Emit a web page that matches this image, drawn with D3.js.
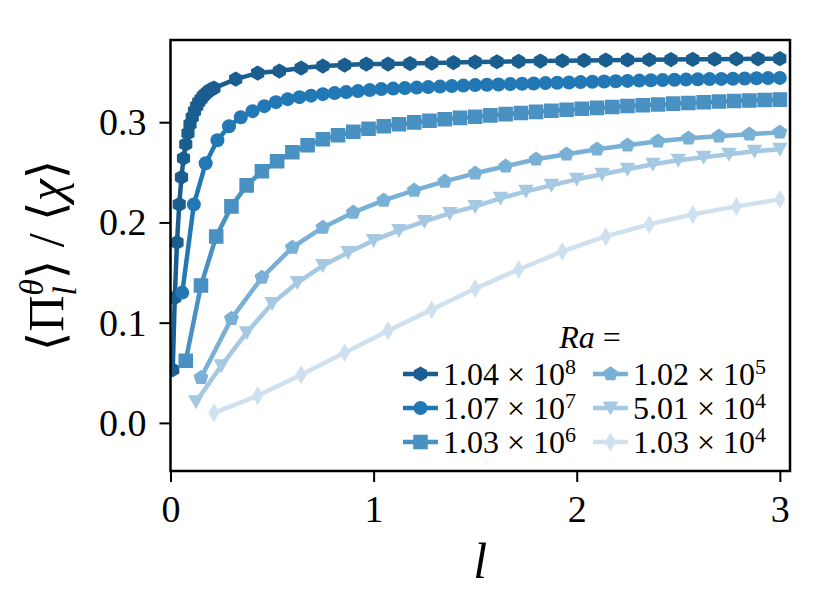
<!DOCTYPE html>
<html lang="en">
<head>
    <meta charset="UTF-8">
    <title>Pi / chi</title>
    <style>
        body { margin: 0; background: #fff; }
        text { font-family: "Liberation Serif", "DejaVu Serif", serif; fill: #000; }
    </style>
</head>
<body>
    <svg width="830" height="615"></svg>

    <script src="https://d3js.org/d3.v7.min.js"></script>
    <script>
        // ---- data ----
        var hexX = [0.011, 0.021, 0.032, 0.043, 0.054, 0.064, 0.075, 0.086, 0.096, 0.107,
                    0.118, 0.129, 0.139, 0.150, 0.161, 0.171, 0.182, 0.193, 0.204, 0.214,
                    0.321, 0.429, 0.536, 0.643, 0.750, 0.857, 0.964, 1.071, 1.179, 1.286,
                    1.393, 1.500, 1.607, 1.714, 1.821, 1.929, 2.036, 2.143, 2.250, 2.357,
                    2.464, 2.571, 2.679, 2.786, 2.893, 3.000];
        var hexY = [0.053, 0.125, 0.180, 0.218, 0.245, 0.264, 0.278, 0.289, 0.298, 0.305,
                    0.311, 0.316, 0.320, 0.323, 0.326, 0.328, 0.330, 0.332, 0.333, 0.334,
                    0.343, 0.349, 0.351, 0.354, 0.356, 0.357, 0.358, 0.358, 0.3585, 0.359,
                    0.3595, 0.360, 0.3603, 0.3607, 0.361, 0.3613, 0.3616, 0.3619, 0.3621, 0.3623,
                    0.3625, 0.3627, 0.3629, 0.3631, 0.3632, 0.3634];

        var circX = [0.058, 0.115, 0.173, 0.231, 0.288, 0.346, 0.404, 0.462, 0.519, 0.577,
                     0.635, 0.692, 0.750, 0.808, 0.865, 0.923, 0.981, 1.038, 1.096, 1.154,
                     1.212, 1.269, 1.327, 1.385, 1.442, 1.500, 1.558, 1.615, 1.673, 1.731,
                     1.788, 1.846, 1.904, 1.962, 2.019, 2.077, 2.135, 2.192, 2.250, 2.308,
                     2.365, 2.423, 2.481, 2.538, 2.596, 2.654, 2.712, 2.769, 2.827, 2.885,
                     2.942, 3.000];
        var circY = [0.130, 0.218, 0.259, 0.282, 0.296, 0.305, 0.311, 0.316, 0.320, 0.323,
                     0.325, 0.3265, 0.328, 0.329, 0.330, 0.331, 0.332, 0.333, 0.3335, 0.334,
                     0.3345, 0.335, 0.3355, 0.336, 0.3365, 0.337, 0.3373, 0.3376, 0.338, 0.3383,
                     0.3386, 0.339, 0.3393, 0.3396, 0.340, 0.3403, 0.3406, 0.3409, 0.3412, 0.3415,
                     0.3418, 0.342, 0.3423, 0.3425, 0.3428, 0.343, 0.3432, 0.3434, 0.3436, 0.3438,
                     0.344, 0.3442];

        var sqX = [0.075, 0.150, 0.225, 0.300, 0.375, 0.450, 0.525, 0.600, 0.675, 0.750,
                   0.825, 0.900, 0.975, 1.050, 1.125, 1.200, 1.275, 1.350, 1.425, 1.500,
                   1.575, 1.650, 1.725, 1.800, 1.875, 1.950, 2.025, 2.100, 2.175, 2.250,
                   2.325, 2.400, 2.475, 2.550, 2.625, 2.700, 2.775, 2.850, 2.925, 3.000];
        var sqY = [0.062, 0.137, 0.186, 0.216, 0.237, 0.251, 0.261, 0.270, 0.277, 0.283,
                   0.287, 0.2905, 0.2935, 0.296, 0.298, 0.2998, 0.3015, 0.303, 0.3043, 0.3055,
                   0.3068, 0.308, 0.3092, 0.3103, 0.3114, 0.3124, 0.3134, 0.3143, 0.3152, 0.3161,
                   0.3169, 0.3177, 0.3185, 0.3192, 0.3199, 0.3206, 0.3212, 0.3217, 0.3221, 0.3225];

        var pentX = [0.15, 0.30, 0.45, 0.60, 0.75, 0.90, 1.05, 1.20, 1.35, 1.50,
                     1.65, 1.80, 1.95, 2.10, 2.25, 2.40, 2.55, 2.70, 2.85, 3.00];
        var pentY = [0.045, 0.104, 0.145, 0.175, 0.195, 0.210, 0.222, 0.232, 0.241, 0.249,
                     0.256, 0.263, 0.268, 0.273, 0.277, 0.281, 0.284, 0.286, 0.288, 0.290];

        var triX = [0.125, 0.250, 0.375, 0.500, 0.625, 0.750, 0.875, 1.000, 1.125, 1.250,
                    1.375, 1.500, 1.625, 1.750, 1.875, 2.000, 2.125, 2.250, 2.375, 2.500,
                    2.625, 2.750, 2.875, 3.000];
        var triY = [0.021, 0.057, 0.090, 0.119, 0.140, 0.157, 0.170, 0.182, 0.192, 0.201,
                    0.209, 0.216, 0.224, 0.231, 0.237, 0.243, 0.248, 0.253, 0.258, 0.262,
                    0.265, 0.268, 0.271, 0.273];

        var diaX = [0.214, 0.429, 0.643, 0.857, 1.071, 1.286, 1.500, 1.714, 1.929, 2.143,
                    2.357, 2.571, 2.786, 3.000];
        var diaY = [0.010, 0.027, 0.048, 0.070, 0.092, 0.113, 0.134, 0.153, 0.171, 0.186,
                    0.198, 0.208, 0.216, 0.223];

        var labelBase = ['1.04', '1.07', '1.03', '1.02', '5.01', '1.03'];
        var labelExp  = ['8', '7', '6', '5', '4', '4'];
        var xTicks = [0, 1, 2, 3];
        var yTicks = [0.0, 0.1, 0.2, 0.3];

        var colors  = ['#1a5d8f', '#2178b4', '#4a91c3', '#79b0d6', '#a5c9e2', '#cfe1ef'];
        var markers = ['hex', 'circle', 'square', 'pent', 'tridown', 'thindia'];

        var series = [[hexX, hexY], [circX, circY], [sqX, sqY],
                      [pentX, pentY], [triX, triY], [diaX, diaY]];

        // ---- layout ----
        var svg = d3.select('svg');
        var mLeft = 170.5, mRight = 790, mTop = 40, mBottom = 471;

        var x = d3.scaleLinear().domain([0, 3.05]).range([mLeft, mRight]);
        var y = d3.scaleLinear().domain([-0.048, 0.382]).range([mBottom, mTop]);

        function polygon(n, r, rot) {
            var pts = [];
            for (var i = 0; i < n; i++) {
                var a = rot + i * 2 * Math.PI / n;
                pts.push([r * Math.sin(a), -r * Math.cos(a)]);
            }
            return 'M' + pts.map(function(p) { return p[0].toFixed(2) + ',' + p[1].toFixed(2); }).join('L') + 'Z';
        }

        function markerPath(kind) {
            if (kind == 'hex') return polygon(6, 7.6, 0);
            if (kind == 'circle') return d3.symbol(d3.symbolCircle, Math.PI * 7 * 7)();
            if (kind == 'square') return 'M-7.3,-7.3L7.3,-7.3L7.3,7.3L-7.3,7.3Z';
            if (kind == 'pent') return polygon(5, 7.8, 0);
            if (kind == 'tridown') return 'M0,7.5L-7.8,-6.5L7.8,-6.5Z';
            if (kind == 'thindia') return 'M0,-9.5L5.6,0L0,9.5L-5.6,0Z';
        }

        svg.append('clipPath').attr('id', 'plotclip')
            .append('rect')
            .attr('x', mLeft).attr('y', mTop)
            .attr('width', mRight - mLeft).attr('height', mBottom - mTop);

        var plot = svg.append('g').attr('clip-path', 'url(#plotclip)');

        var line = d3.line()
            .x(function(d) { return x(d[0]); })
            .y(function(d) { return y(d[1]); });

        series.forEach(function(s, i) {
            var pts = s[0].map(function(v, j) { return [v, s[1][j]]; });
            var g = plot.append('g');
            g.append('path')
                .datum(pts)
                .attr('d', line)
                .attr('fill', 'none')
                .attr('stroke', colors[i])
                .attr('stroke-width', 4.5)
                .attr('stroke-linejoin', 'round');
            g.selectAll('path.mk')
                .data(pts)
                .enter().append('path')
                .attr('class', 'mk')
                .attr('d', markerPath(markers[i]))
                .attr('transform', function(d) { return 'translate(' + x(d[0]) + ',' + y(d[1]) + ')'; })
                .attr('fill', colors[i]);
        });

        // ---- axes ----
        var xAxis = svg.append('g')
            .attr('transform', 'translate(0,' + mBottom + ')')
            .call(d3.axisBottom(x).tickValues(xTicks).tickFormat(d3.format('d')).tickSize(11).tickPadding(13));
        var yAxis = svg.append('g')
            .attr('transform', 'translate(' + mLeft + ',0)')
            .call(d3.axisLeft(y).tickValues(yTicks).tickFormat(d3.format('.1f')).tickSize(11).tickPadding(13));

        [xAxis, yAxis].forEach(function(a) {
            a.select('.domain').remove();
            a.selectAll('line').attr('stroke', '#000').attr('stroke-width', 2);
            a.selectAll('text')
                .style('font-family', '"Liberation Serif", serif')
                .style('font-size', '38px')
                .attr('fill', '#000');
        });
        yAxis.selectAll('text').attr('dy', '0.33em');
        xAxis.selectAll('text').attr('dy', '0.72em');

        svg.append('rect')
            .attr('x', mLeft).attr('y', mTop)
            .attr('width', mRight - mLeft).attr('height', mBottom - mTop)
            .attr('fill', 'none')
            .attr('stroke', '#000')
            .attr('stroke-width', 2.5);

        // ---- axis labels ----
        svg.append('text')
            .attr('x', (mLeft + mRight) / 2)
            .attr('y', 578)
            .attr('text-anchor', 'middle')
            .style('font-size', '50px')
            .style('font-style', 'italic')
            .text('l');

        // y label built piece by piece so the sub/superscript stack
        var yl = svg.append('g');
        var pieces = [
            { t: '\u27E8', size: 50 },
            { t: '\u03A0', size: 50 },
            { t: '\u03B8', size: 33, italic: true, dy: -20 },
            { t: 'l', size: 33, italic: true, dy: 13, stack: true },
            { t: '\u27E9', size: 50 },
            { t: ' / ', size: 50 },
            { t: '\u27E8', size: 50 },
            { t: '\u03C7', size: 50, italic: true },
            { t: '\u27E9', size: 50 }
        ];
        var cursor = 0, lastStart = 0, lastW = 0;
        pieces.forEach(function(p) {
            var startX = p.stack ? lastStart : cursor;
            var node = yl.append('text')
                .attr('x', startX)
                .attr('y', p.dy || 0)
                .style('font-size', p.size + 'px')
                .style('font-style', p.italic ? 'italic' : 'normal')
                .style('white-space', 'pre')
                .text(p.t);
            var w = node.node().getComputedTextLength();
            if (p.stack) {
                cursor = lastStart + Math.max(w, lastW);
            } else {
                lastStart = startX;
                lastW = w;
                cursor = startX + w;
            }
        });
        yl.attr('transform', 'translate(63,' + ((mTop + mBottom) / 2) + ') rotate(-90) translate(' + (-cursor / 2) + ',0)');

        // ---- legend ----
        var leg = svg.append('g');
        leg.append('text')
            .attr('x', 590).attr('y', 348)
            .attr('text-anchor', 'middle')
            .style('font-size', '32px')
            .html('<tspan font-style="italic">Ra</tspan> =');

        var colX = [403, 593], rowY = [374, 408, 442];
        labelBase.forEach(function(b, i) {
            var cx = colX[Math.floor(i / 3)], cy = rowY[i % 3];
            leg.append('line')
                .attr('x1', cx).attr('x2', cx + 35)
                .attr('y1', cy).attr('y2', cy)
                .attr('stroke', colors[i]).attr('stroke-width', 4.5);
            leg.append('path')
                .attr('d', markerPath(markers[i]))
                .attr('transform', 'translate(' + (cx + 17.5) + ',' + cy + ')')
                .attr('fill', colors[i]);
            var t = leg.append('text')
                .attr('x', cx + 40).attr('y', cy + 11)
                .style('font-size', '32px')
                .style('white-space', 'pre');
            t.append('tspan').text(b + ' \u00D7 10');
            t.append('tspan').attr('dy', -11).style('font-size', '22px').text(labelExp[i]);
        });
    </script>
</body>
</html>
